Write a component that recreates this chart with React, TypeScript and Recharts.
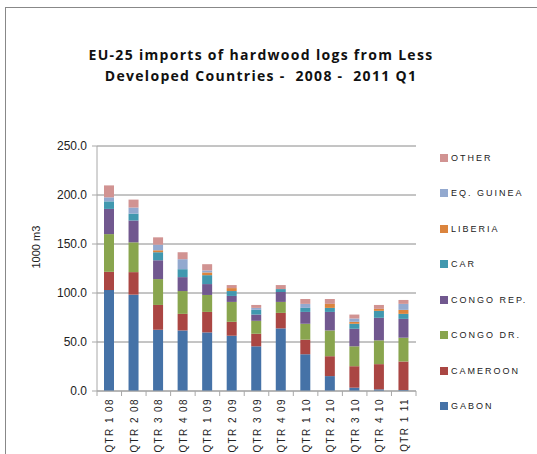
import { Bar, BarChart, CartesianGrid, Legend, XAxis, YAxis } from "recharts"

const categories = [
  "QTR 1 08", "QTR 2 08", "QTR 3 08", "QTR 4 08",
  "QTR 1 09", "QTR 2 09", "QTR 3 09", "QTR 4 09",
  "QTR 1 10", "QTR 2 10", "QTR 3 10", "QTR 4 10", "QTR 1 11",
]

const gabon = [103, 98.3, 62.5, 61.8, 59.8, 56.4, 45.6, 63.9, 37.5, 15.2, 3.4, 1.7, 1]
const cameroon = [18.6, 23, 25.3, 16.9, 20.9, 14.2, 12.8, 15.8, 14.9, 20.3, 21.9, 25.7, 29.1]
const congoDr = [38.5, 30.4, 26.4, 23.3, 17.3, 20.3, 13.2, 11.2, 16.2, 26.3, 20.3, 24.3, 24.3]
const congoRep = [25.7, 22.3, 19.2, 14.2, 11.1, 6.1, 6.4, 10.1, 12.1, 18.9, 17.9, 23, 19.2]
const car = [7.7, 7, 8.2, 8.1, 9.1, 5, 4.8, 3, 4.1, 4.1, 5.1, 7.1, 5.1]
const liberia = [0, 0, 2, 0, 2.8, 3, 0, 0, 0, 4.1, 2, 2, 4.1]
const eqGuinea = [4.1, 6.2, 5.7, 10.2, 2, 0, 2, 0, 4.1, 0, 3.4, 0, 6.1]
const other = [12.2, 8.1, 7.5, 7.1, 6.4, 3.1, 3, 4.1, 5, 5, 4, 4, 4]

const yTicks = [0, 50, 100, 150, 200, 250]

const series = [
  { key: "GABON", values: gabon, color: "#4572A7" },
  { key: "CAMEROON", values: cameroon, color: "#AA4643" },
  { key: "CONGO DR.", values: congoDr, color: "#89A54E" },
  { key: "CONGO REP.", values: congoRep, color: "#71588F" },
  { key: "CAR", values: car, color: "#4198AF" },
  { key: "LIBERIA", values: liberia, color: "#DB843D" },
  { key: "EQ. GUINEA", values: eqGuinea, color: "#93A9CF" },
  { key: "OTHER", values: other, color: "#D19392" },
]

const data = categories.map((name, i) => {
  const row: { [key: string]: string | number } = { name }
  series.forEach((s) => {
    row[s.key] = s.values[i]
  })
  return row
})

const W = 537
const H = 454
const plotLeft = 97
const plotRight = 416
const step = (plotRight - plotLeft) / categories.length
const gridColor = "#8a8a8a"
const axisColor = "#a8a8a8"
const font = "'Liberation Sans', Arial, sans-serif"

const XTick = ({ x, y, payload, index }: any) => {
  const last = index === categories.length - 1
  return (
    <g>
      <line x1={x - step / 2} x2={x - step / 2} y1={y - 6} y2={y - 1} stroke={axisColor} />
      {last && <line x1={x + step / 2} x2={x + step / 2} y1={y - 6} y2={y - 1} stroke={axisColor} />}
      <text
        transform={`translate(${x + 4},${y + 1}) rotate(-90)`}
        textAnchor="end"
        fontSize={10}
        letterSpacing={1.4}
        fill="#222"
        fontFamily={font}
      >
        {payload.value}
      </text>
    </g>
  )
}

const LegendBox = () => (
  <div style={{ fontFamily: font }}>
    {[...series].reverse().map((s) => (
      <div key={s.key} style={{ display: "flex", alignItems: "center", height: 35.5 }}>
        <span style={{ width: 8, height: 8, background: s.color, marginRight: 3 }} />
        <span style={{ fontSize: 9, letterSpacing: 2, color: "#222" }}>{s.key}</span>
      </div>
    ))}
  </div>
)

export default function App() {
  return (
    <div style={{ position: "absolute", left: 0, top: 0, width: W, height: H, overflow: "hidden", background: "#fff" }}>
      <div
        style={{
          position: "absolute", left: 5, top: 7, width: 700, height: 700,
          border: "1px solid #888", boxSizing: "border-box",
        }}
      />
      <div
        style={{
          position: "absolute", left: 0, top: 44, width: 522, textAlign: "center",
          fontFamily: "'Open Sans', sans-serif", fontWeight: 700, fontSize: 14,
          letterSpacing: 1.3, lineHeight: "21px", color: "#111",
        }}
      >
        EU-25 imports of hardwood logs from Less
        <br />
        Developed Countries -&nbsp; 2008 -&nbsp; 2011 Q1
      </div>
      <BarChart
        width={W}
        height={H}
        data={data}
        barSize={10}
        margin={{ top: 146, right: W - plotRight, bottom: 3, left: plotLeft - 60 }}
        style={{ position: "absolute", left: 0, top: 0 }}
      >
        <CartesianGrid vertical={false} stroke={gridColor} />
        <XAxis
          dataKey="name"
          interval={0}
          height={60}
          tickSize={0}
          tickMargin={6}
          tick={<XTick />}
          stroke={axisColor}
        />
        <YAxis
          width={60}
          domain={[0, 250]}
          ticks={yTicks}
          tickSize={5}
          tickMargin={5}
          tickFormatter={(v) => Number(v).toFixed(1)}
          stroke={axisColor}
          tick={{ fill: "#222", fontSize: 12, fontFamily: font }}
          label={{ value: "1000 m3", angle: -90, position: "insideLeft", offset: -1, fill: "#222", fontSize: 11, fontFamily: font }}
        />
        <Legend
          layout="vertical"
          align="center"
          verticalAlign="middle"
          content={<LegendBox />}
          wrapperStyle={{ position: "absolute", left: 440, top: 140, width: 97 }}
        />
        {series.map((s) => (
          <Bar key={s.key} dataKey={s.key} stackId="a" fill={s.color} isAnimationActive={false} />
        ))}
      </BarChart>
    </div>
  )
}
